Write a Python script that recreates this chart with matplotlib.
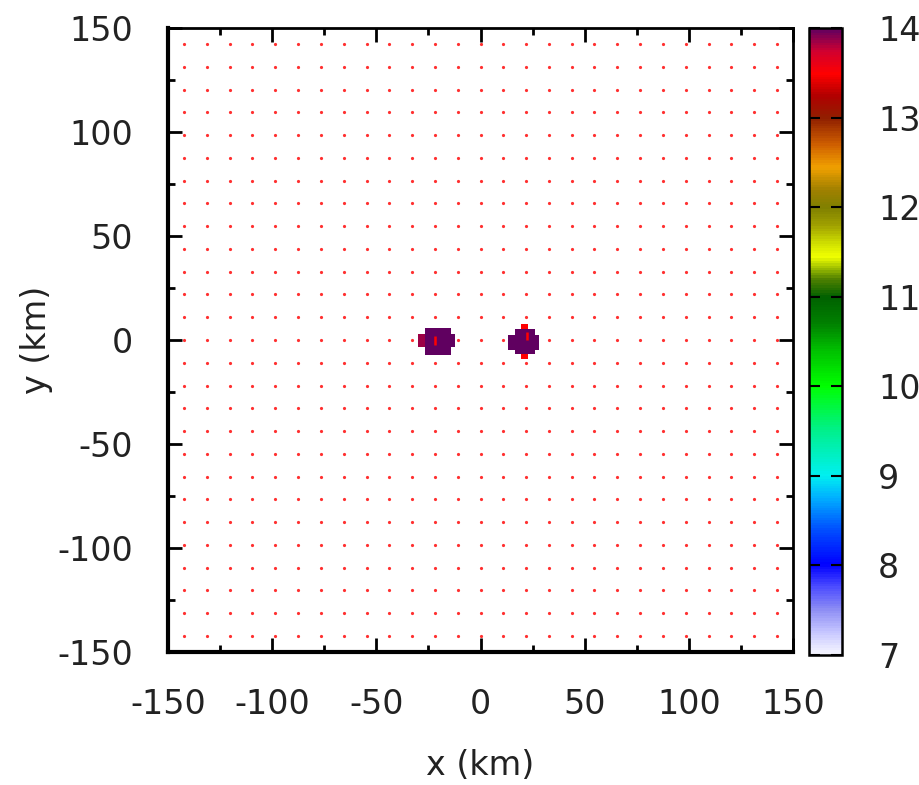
import numpy as np
import matplotlib
matplotlib.use("Agg")
import matplotlib.pyplot as plt
from matplotlib.colors import LinearSegmentedColormap

# regular station grid (km)
grid_x = [-142.3, -131.4, -120.4, -109.5, -98.5, -87.6, -76.6, -65.7, -54.7,
          -43.8, -32.8, -21.9, -10.9, 0.0, 10.9, 21.9, 32.8, 43.8, 54.7,
          65.7, 76.6, 87.6, 98.5, 109.5, 120.4, 131.4, 142.3]
grid_y = list(grid_x)

# left blob (cell edges in km, values top row first)
left_xe = [-30.2, -26.8, -23.6, -20.4, -17.2, -14.4, -12.1]
left_ye = [5.6, 2.9, -0.3, -3.5, -7.2]
left_val = [[np.nan, 14.0, 14.0, 14.0, 14.0, np.nan],
            [13.85, 14.0, 14.0, 14.0, 14.0, 14.0],
            [13.85, 14.0, 14.0, 14.0, 14.0, 14.0],
            [np.nan, 14.0, 14.0, 14.0, 14.0, np.nan]]

# right blob
right_xe = [13.4, 16.6, 19.3, 23.0, 26.1, 28.0]
right_ye = [7.7, 5.3, 2.4, -1.2, -4.8, -6.9, -9.3]
right_val = [[np.nan, np.nan, 13.5, np.nan, np.nan],
             [np.nan, 14.0, 14.0, 14.0, np.nan],
             [14.0, 14.0, 14.0, 14.0, 14.0],
             [14.0, 14.0, 14.0, 14.0, 14.0],
             [np.nan, 14.0, 14.0, 14.0, np.nan],
             [np.nan, np.nan, 13.5, np.nan, np.nan]]

# thin red streaks inside the blobs
streak_x = [-22.0, 22.3]
streak_y0 = [-2.5, 0.0]
streak_y1 = [1.9, 3.7]

cbar_ticks = [7, 8, 9, 10, 11, 12, 13, 14]

# palette, value -> colour
pal = [(7.0, "#f6f6ff"), (7.25, "#c4c4ff"), (7.5, "#8c8cf4"), (7.75, "#4c4cff"),
       (8.0, "#0000ff"), (8.4, "#0050ff"), (8.75, "#00b0ff"), (9.0, "#00f0f0"),
       (9.5, "#00f08c"), (10.0, "#00ff00"), (10.4, "#00c000"), (10.7, "#008000"),
       (11.0, "#006000"), (11.2, "#508000"), (11.45, "#f0ff00"), (11.6, "#d0e000"),
       (11.8, "#a0a000"), (12.0, "#808000"), (12.2, "#a08000"), (12.45, "#f0a000"),
       (12.7, "#d06000"), (13.0, "#902000"), (13.25, "#b00000"), (13.5, "#ff0000"),
       (13.75, "#d00030"), (14.0, "#600060")]
vmin, vmax = 7.0, 14.0
cmap = LinearSegmentedColormap.from_list(
    "pal", [((v - vmin) / (vmax - vmin), c) for v, c in pal], N=256)

plt.rcParams['font.family'] = ['DejaVu Sans']
plt.rcParams['axes.unicode_minus'] = False
fs = 24
txt = "#222222"

fig = plt.figure(figsize=(9.2, 7.85), dpi=100)
ax = fig.add_axes([168 / 920, 133 / 785, 625 / 920, 624 / 785])
cax = fig.add_axes([809 / 920, 130 / 785, 33 / 920, 627 / 785])

gx, gy = np.meshgrid(grid_x, grid_y)
ax.plot(gx.ravel(), gy.ravel(), 'o', color="#ff3030", ms=2.3, mew=0, zorder=1)

mesh = ax.pcolormesh(left_xe, left_ye, np.ma.masked_invalid(np.array(left_val)),
                     cmap=cmap, vmin=vmin, vmax=vmax, zorder=2)
ax.pcolormesh(right_xe, right_ye, np.ma.masked_invalid(np.array(right_val)),
              cmap=cmap, vmin=vmin, vmax=vmax, zorder=2)
ax.vlines(streak_x, streak_y0, streak_y1, color="#ff0000", lw=1.8, zorder=3)

ax.set_xlim(-150, 150)
ax.set_ylim(-150, 150)
ax.set_xticks(np.arange(-150, 151, 50))
ax.set_yticks(np.arange(-150, 151, 50))
ax.set_xticks(np.arange(-125, 150, 50), minor=True)
ax.set_yticks(np.arange(-125, 150, 50), minor=True)
ax.tick_params(which='both', direction='in', top=True, right=True, width=2,
               labelsize=fs, labelcolor=txt)
ax.tick_params(which='major', length=10)
ax.tick_params(which='minor', length=5)
ax.tick_params(axis='x', pad=26)
ax.tick_params(axis='y', pad=25)
for side in ['left', 'bottom']:
    ax.spines[side].set_linewidth(3)
for side in ['top', 'right']:
    ax.spines[side].set_linewidth(2)

ax.set_xlabel("x (km)", fontsize=fs, labelpad=20, color=txt)
ax.set_ylabel("y (km)", fontsize=fs, labelpad=3, color=txt)

cb = fig.colorbar(mesh, cax=cax, ticks=cbar_ticks)
cb.outline.set_linewidth(1.8)
cax.tick_params(direction='in', left=True, right=True, length=8, width=1.5,
                labelsize=fs, pad=26, labelcolor=txt)

fig.savefig("out.png", dpi=100)
